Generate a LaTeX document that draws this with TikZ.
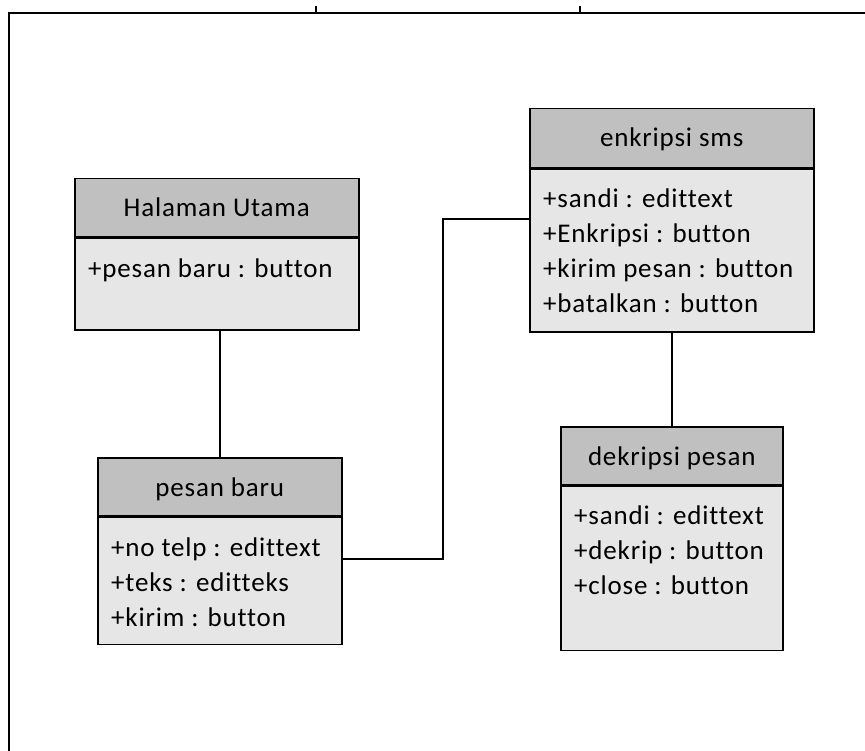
\documentclass[tikz,border=0pt]{standalone}
\usepackage{fontspec}
\setmainfont[LetterSpace=3, Ligatures={NoCommon}]{Carlito}
\definecolor{headgray}{HTML}{C0C0C0}
\definecolor{bodygray}{HTML}{E6E6E6}
\tikzset{
  headbox/.style={draw, line width=1.5pt, fill=headgray, inner sep=0pt, anchor=north west},
  bodybox/.style={draw, line width=1.5pt, fill=bodygray, inner sep=0pt, anchor=north west},
  title/.style={anchor=base, inner sep=0pt, font=\fontsize{27}{32}\selectfont},
  attr/.style={anchor=base west, inner sep=0pt, font=\fontsize{27}{32}\selectfont},
  conn/.style={draw, line width=1.5pt},
  frameline/.style={draw, line width=2.2pt}
}
\begin{document}
\begin{tikzpicture}[x=1pt, y=-1pt]
\useasboundingbox (0,0) rectangle (865,751);

% outer frame with two ticks on the top edge
\draw[frameline] (9,751) -- (9,13) -- (865,13);
\draw[line width=1.5pt] (316,6) -- (316,13);
\draw[line width=1.5pt] (580,6) -- (580,13);

% Halaman Utama
\node[headbox, minimum width=284pt, minimum height=58pt] (hu) at (74,178) {};
\node[title] (hut) at ([yshift=-39pt]hu.north) {Halaman Utama};
\node[bodybox, minimum width=284pt, minimum height=92pt] (hub) at (hu.south west) {};
\node[attr] (hu1) at ([xshift=14pt, yshift=-40pt]hub.north west) {+pesan baru : button};

% pesan baru
\node[headbox, minimum width=244pt, minimum height=58pt] (pb) at (97,457) {};
\node[title] (pbt) at ([yshift=-39pt]pb.north) {pesan baru};
\node[bodybox, minimum width=244pt, minimum height=127pt] (pbb) at (pb.south west) {};
\node[attr] (pb1) at ([xshift=14pt, yshift=-40pt]pbb.north west) {+no telp : edittext};
\node[attr] (pb2) at ([xshift=14pt, yshift=-75pt]pbb.north west) {+teks : editteks};
\node[attr] (pb3) at ([xshift=14pt, yshift=-110pt]pbb.north west) {+kirim : button};

% enkripsi sms
\node[headbox, minimum width=284pt, minimum height=59pt] (es) at (529,108) {};
\node[title] (est) at ([yshift=-39pt]es.north) {enkripsi sms};
\node[bodybox, minimum width=284pt, minimum height=163pt] (esb) at (es.south west) {};
\node[attr] (es1) at ([xshift=14pt, yshift=-39pt]esb.north west) {+sandi : edittext};
\node[attr] (es2) at ([xshift=14pt, yshift=-74pt]esb.north west) {+Enkripsi : button};
\node[attr] (es3) at ([xshift=14pt, yshift=-109pt]esb.north west) {+kirim pesan : button};
\node[attr] (es4) at ([xshift=14pt, yshift=-144pt]esb.north west) {+batalkan : button};

% dekripsi pesan
\node[headbox, minimum width=222pt, minimum height=58pt] (dp) at (560,426) {};
\node[title] (dpt) at ([yshift=-39pt]dp.north) {dekripsi pesan};
\node[bodybox, minimum width=222pt, minimum height=164pt] (dpb) at (dp.south west) {};
\node[attr] (dp1) at ([xshift=14pt, yshift=-39pt]dpb.north west) {+sandi : edittext};
\node[attr] (dp2) at ([xshift=14pt, yshift=-74pt]dpb.north west) {+dekrip : button};
\node[attr] (dp3) at ([xshift=14pt, yshift=-109pt]dpb.north west) {+close : button};

% connectors
\coordinate (j1) at (443,559);
\coordinate (j2) at (443,219);
\draw[conn] (hub.south -| pb.north) -- (pb.north);
\draw[conn] (j1 -| pbb.east) -- (j1) -- (j2) -- (j2 -| esb.west);
\draw[conn] (esb.south -| 672,0) -- (dp.north -| 672,0);
\end{tikzpicture}
\end{document}
